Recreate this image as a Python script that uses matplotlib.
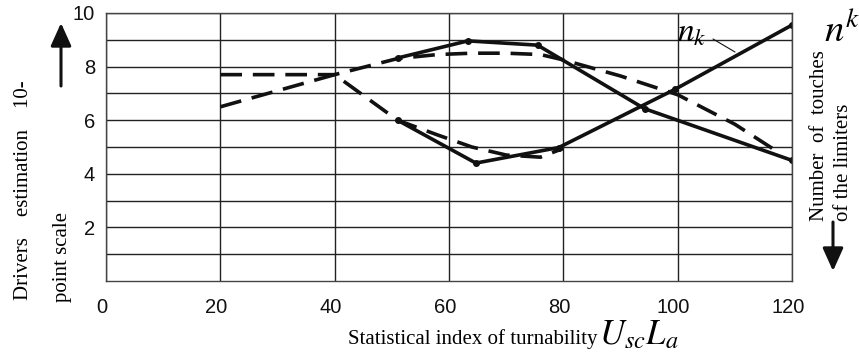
import matplotlib.pyplot as plt
import matplotlib.transforms as mtransforms

plt.rcParams['font.family'] = ['Liberation Sans', 'DejaVu Sans']
plt.rcParams['mathtext.fontset'] = 'stix'

# measured points: driver estimation and touches of the limiters n_k
x_est = [51, 63.3, 75.5, 94.2, 120]
y_est = [8.32, 8.96, 8.8, 6.43, 4.5]
x_nk = [51, 64.7, 79.2, 99.6, 120]
y_nk = [6.0, 4.4, 4.98, 7.16, 9.55]

# smoothed (dashed) curves
x_est_fit = [20, 40, 51, 58, 64, 70, 76, 80, 90, 100, 110, 118]
y_est_fit = [7.7, 7.7, 8.3, 8.45, 8.5, 8.5, 8.45, 8.25, 7.65, 6.95, 5.85, 4.75]
x_nk_fit = [20, 40, 51, 58, 64, 70, 76, 80]
y_nk_fit = [6.5, 7.7, 6.0, 5.45, 5.0, 4.7, 4.62, 4.95]

xticks = [0, 20, 40, 60, 80, 100, 120]
yticks = [2, 4, 6, 8, 10]

W, H = 859, 360
def fx(px):
    return px / W
def fy(py):
    return 1 - py / H

fig = plt.figure(figsize=(W / 100, H / 100), dpi=100)
ax = fig.add_axes([fx(106), fy(281), fx(792) - fx(106), fy(13) - fy(281)])

lw = 2.6
ax.plot(x_est, y_est, '-', color='#111111', lw=lw, marker='o', ms=4)
ax.plot(x_nk, y_nk, '-', color='#111111', lw=lw, marker='o', ms=4)
ax.plot(x_est_fit, y_est_fit, color='#111111', lw=lw, dashes=(6, 3))
ax.plot(x_nk_fit, y_nk_fit, color='#111111', lw=lw, dashes=(6, 3))

ax.set_xlim(0, 120)
ax.set_ylim(0, 10)
ax.set_xticks(xticks)
ax.set_yticks(yticks)
ax.set_yticks([1, 3, 5, 7, 9], minor=True)
ax.grid(which='both', color='#222222', lw=1.0)
ax.tick_params(which='both', length=0, labelsize=14.5, colors='#111111')
ax.tick_params(axis='x', pad=12)
ax.tick_params(axis='y', pad=8)
for lab in ax.get_xticklabels():
    lab.set_transform(lab.get_transform() +
                      mtransforms.ScaledTranslation(-4 / 100, 0, fig.dpi_scale_trans))
for sp in ax.spines.values():
    sp.set_color('#444444')
    sp.set_linewidth(1.0)

serif = ['Liberation Serif', 'DejaVu Serif']

# axis captions
fig.text(fx(24), fy(300), 'Drivers    estimation    10-', rotation=90,
         ha='center', va='bottom', family=serif, fontsize=15)
fig.text(fx(63), fy(302), 'point scale', rotation=90,
         ha='center', va='bottom', family=serif, fontsize=15)
fig.text(fx(819), fy(221), 'Number  of  touches', rotation=90,
         ha='center', va='bottom', family=serif, fontsize=15)
fig.text(fx(843), fy(221), 'of the limiters', rotation=90,
         ha='center', va='bottom', family=serif, fontsize=15)

fig.text(fx(597), fy(344), 'Statistical index of turnability', ha='right',
         va='baseline', family=serif, fontsize=15)
fig.text(fx(599), fy(344), '$U_{sc}L_a$', ha='left', va='baseline', fontsize=25)

fig.text(fx(677), fy(42), '$n_k$', ha='left', va='baseline', fontsize=24)
fig.text(fx(824), fy(42), '$n^k$', ha='left', va='baseline', fontsize=28)
ax.annotate('', xy=(735, H - 52), xytext=(713, H - 39), xycoords='figure pixels',
            textcoords='figure pixels',
            arrowprops=dict(arrowstyle='-', lw=0.8, color='#111111',
                            shrinkA=0, shrinkB=0))

# direction arrows
ax.annotate('', xy=(61, H - 23), xytext=(61, H - 86), xycoords='figure pixels',
            textcoords='figure pixels',
            arrowprops=dict(arrowstyle='-|>,head_length=1.0,head_width=0.45',
                            lw=2.2, color='#111111', mutation_scale=14,
                            shrinkA=0, shrinkB=0))
ax.annotate('', xy=(833, H - 271), xytext=(833, H - 222), xycoords='figure pixels',
            textcoords='figure pixels',
            arrowprops=dict(arrowstyle='-|>,head_length=1.0,head_width=0.45',
                            lw=2.2, color='#111111', mutation_scale=14,
                            shrinkA=0, shrinkB=0))

fig.savefig('out.png', dpi=100)
